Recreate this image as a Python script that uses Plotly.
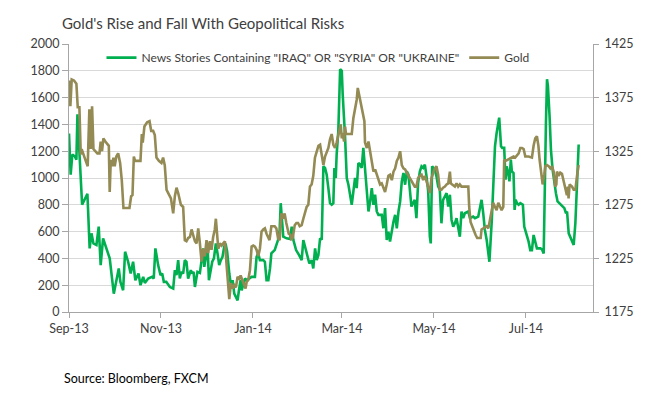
import numpy as np
import pandas as pd
import plotly.graph_objects as go

# Day offsets are days since 2013-09-01
START = "2013-09-01"

news_day = [0.0, 1.1, 2.2, 3.8, 4.9, 5.6, 8.7, 10.4, 12.2, 13.7, 14.9, 16.2, 18.2, 19.7, 21.0, 22.6,
            24.8, 27.0, 29.7, 31.5, 33.0, 34.1, 35.9, 37.2, 39.2, 40.9, 42.5, 44.0, 46.1, 47.4, 49.2,
            50.3, 52.5, 55.1, 56.2, 57.3, 59.1, 60.7, 61.8, 62.9, 64.5, 66.9, 69.1, 70.2, 71.3, 72.4,
            73.5, 74.6, 75.7, 76.8, 77.9, 79.0, 80.8, 81.7, 82.6, 83.5, 85.2, 86.8, 87.9, 89.0, 89.7,
            90.8, 91.9, 92.8, 93.9, 95.0, 96.1, 97.4, 98.5, 99.6, 100.7, 101.8, 102.9, 103.8, 104.9,
            105.6, 106.3, 107.4, 108.5, 109.6, 110.7, 111.8, 112.7, 113.8, 114.5, 115.6, 116.7, 117.8,
            119.3, 121.1, 123.3, 124.4, 125.5, 126.6, 128.8, 129.9, 131.0, 132.2, 133.3, 134.2, 136.4,
            137.5, 138.6, 139.7, 140.4, 142.1, 144.3, 146.5, 147.7, 148.8, 150.6, 152.6, 154.3, 155.4,
            157.2, 158.1, 159.4, 161.0, 162.0, 163.2, 164.3, 165.4, 166.5, 167.6, 168.2, 168.7, 169.8,
            170.9, 172.0, 173.1, 174.2, 175.3, 176.0, 176.9, 177.5, 178.6, 179.8, 180.9, 181.5, 182.4,
            183.1, 184.2, 185.3, 186.4, 187.5, 188.6, 189.7, 190.8, 191.9, 193.0, 194.1, 195.2, 196.3,
            197.5, 198.6, 199.7, 200.8, 201.9, 203.0, 204.1, 205.2, 206.3, 207.4, 208.5, 209.6, 210.7,
            211.8, 212.9, 214.1, 215.2, 216.3, 217.4, 218.5, 219.6, 220.7, 221.8, 222.9, 224.0, 225.1,
            227.1, 228.2, 229.3, 230.4, 231.5, 232.7, 233.8, 234.9, 236.0, 237.1, 238.2, 239.3, 239.9,
            240.8, 242.6, 243.7, 244.8, 245.9, 247.0, 248.1, 249.3, 250.4, 251.5, 252.6, 253.7, 254.8,
            255.9, 257.0, 259.2, 260.3, 261.4, 262.5, 264.8, 265.9, 268.0, 269.2, 271.4, 272.5, 273.6,
            274.7, 275.8, 277.0, 278.1, 278.8, 280.4, 281.5, 282.5, 283.6, 284.7, 285.3, 286.5, 287.3,
            288.6, 289.5, 290.2, 291.3, 292.1, 293.0, 293.7, 294.8, 295.5, 296.2, 297.1, 298.2, 299.3,
            301.0, 301.9, 303.2, 304.8, 305.9, 307.0, 308.1, 309.2, 310.3, 312.6, 313.7, 314.8, 315.4,
            316.3, 317.0, 317.6, 318.7, 319.6, 320.7, 321.8, 322.9, 324.0, 325.2, 326.3, 327.4, 328.5,
            329.6, 330.3, 331.4, 332.5, 333.6, 334.7, 335.8, 336.9, 338.0]
news_count = [1332, 1025, 1175, 1162, 1137, 1475, 800, 837, 882, 475, 587, 512, 500, 637, 350, 550,
              475, 400, 137, 250, 325, 225, 162, 450, 375, 287, 375, 237, 287, 200, 262,
              217, 250, 262, 250, 475, 350, 275, 287, 225, 225, 187, 175, 312, 275, 387,
              250, 300, 287, 387, 375, 250, 312, 287, 300, 187, 300, 292, 400, 475, 337,
              412, 487, 237, 325, 375, 400, 512, 437, 350, 387, 412, 487, 512, 450,
              362, 287, 200, 237, 137, 112, 87, 162, 237, 162, 212, 250, 237,
              250, 262, 262, 412, 437, 387, 387, 375, 237, 237, 325, 437, 462,
              500, 537, 612, 812, 562, 550, 545, 637, 537, 462, 425, 387, 537,
              462, 412, 362, 387, 325, 475, 387, 425, 550, 540, 800, 1087, 1075,
              1025, 925, 812, 800, 812, 1075, 1000, 1175, 1350, 1812, 1800, 1625, 1475,
              1300, 1000, 950, 875, 800, 900, 1000, 925, 1112, 1100, 1075, 1225, 1062,
              925, 750, 825, 925, 800, 875, 750, 725, 725, 725, 625, 775, 537,
              600, 525, 625, 675, 725, 625, 750, 825, 975, 1037, 950, 1050, 1025,
              787, 812, 837, 700, 962, 1050, 1087, 1075, 1100, 1012, 900, 562, 512,
              1087, 1062, 1012, 937, 912, 662, 837, 862, 887, 787, 875, 687, 637,
              662, 700, 562, 750, 700, 737, 750, 700, 712, 700, 712, 787, 837,
              737, 612, 537, 450, 375, 687, 962, 1237, 1337, 1437, 1450, 1237, 1225,
              1225, 987, 1087, 1037, 975, 1137, 1050, 1037, 762, 837, 812, 800, 812,
              800, 637, 587, 525, 462, 462, 575, 512, 475, 475, 467, 437, 912,
              1412, 1737, 1687, 1462, 1212, 1062, 962, 887, 825, 812, 800, 787, 775,
              737, 750, 587, 562, 525, 500, 662, 987, 1250]

gold_day = [0.0, 0.9, 1.8, 3.3, 4.9, 5.8, 6.9, 7.8, 8.4, 9.8, 11.1, 12.4, 13.5, 14.4, 15.3, 16.2,
            17.3, 18.8, 20.2, 21.0, 21.9, 22.8, 24.1, 25.5, 26.4, 27.0, 27.7, 28.6, 29.5, 30.3, 31.4,
            32.6, 33.9, 35.0, 36.1, 38.3, 40.1, 41.2, 42.1, 43.0, 43.8, 47.4, 48.3, 48.9, 50.0, 51.8,
            53.4, 54.5, 55.8, 56.9, 58.0, 59.6, 61.3, 62.4, 63.5, 64.7, 65.8, 67.6, 69.1, 70.2, 71.3,
            72.4, 74.2, 75.7, 76.8, 77.9, 79.0, 80.2, 81.3, 82.4, 83.5, 84.6, 85.7, 86.8, 87.9, 89.0,
            90.1, 91.2, 92.3, 93.4, 94.5, 95.6, 96.7, 97.4, 98.3, 99.0, 100.1, 101.2, 102.3, 103.4,
            104.5, 105.6, 106.3, 107.4, 108.5, 109.6, 110.7, 111.8, 112.7, 113.8, 114.9, 116.0, 117.1,
            117.8, 118.9, 120.0, 121.1, 122.2, 123.3, 124.4, 125.5, 126.6, 127.7, 128.8, 129.9, 131.0,
            132.2, 133.0, 134.2, 136.4, 137.5, 138.6, 139.7, 140.8, 141.9, 143.0, 144.1, 145.7, 146.8,
            147.4, 148.5, 149.7, 150.8, 151.9, 153.0, 154.3, 155.4, 156.5, 157.6, 158.7, 159.8, 160.9,
            162.0, 163.1, 164.3, 165.4, 166.5, 167.6, 168.7, 169.8, 170.9, 172.0, 173.1, 174.2, 175.3,
            176.4, 177.5, 178.6, 179.3, 180.2, 180.9, 181.5, 182.4, 183.1, 183.7, 185.3, 187.5, 188.6,
            189.7, 190.8, 191.5, 192.6, 193.7, 194.8, 195.9, 196.3, 197.5, 198.6, 199.7, 200.8, 201.9,
            203.0, 204.1, 205.2, 206.3, 207.4, 208.5, 209.6, 210.7, 211.8, 212.9, 214.1, 215.2, 216.3,
            217.4, 218.5, 219.6, 220.7, 221.8, 222.9, 224.0, 225.1, 227.1, 228.2, 229.3, 230.4, 231.5,
            232.7, 233.8, 234.9, 236.0, 237.1, 238.2, 239.3, 240.4, 241.5, 242.6, 243.7, 244.8, 245.9,
            247.0, 248.1, 249.3, 250.4, 251.5, 252.6, 253.2, 254.1, 255.9, 257.0, 258.1, 259.2, 260.3,
            262.5, 264.8, 265.4, 266.3, 267.4, 268.5, 269.6, 270.7, 273.0, 273.6, 274.7, 277.0, 278.1,
            279.1, 280.2, 281.3, 282.5, 283.6, 284.7, 285.8, 286.9, 288.0, 288.6, 289.5, 290.9, 292.4,
            293.7, 294.8, 295.9, 298.2, 299.3, 300.4, 301.5, 302.6, 304.8, 307.0, 308.1, 309.2, 310.3,
            311.3, 312.1, 313.0, 314.1, 315.2, 315.9, 317.0, 318.1, 319.2, 320.3, 321.4, 322.5, 323.2,
            323.6, 324.7, 325.8, 326.9, 328.0, 329.1, 330.2, 330.9, 331.3, 332.0, 333.6, 334.7, 335.8,
            336.9, 338.0]
gold_price = [1391, 1367, 1392, 1391, 1388, 1366, 1366, 1322, 1327, 1320, 1316, 1311, 1364, 1327, 1367, 1327,
              1325, 1323, 1323, 1334, 1325, 1337, 1334, 1331, 1330, 1287, 1317, 1311, 1319, 1311, 1320,
              1323, 1314, 1298, 1272, 1272, 1272, 1283, 1284, 1320, 1316, 1316, 1341, 1333, 1348, 1352,
              1353, 1344, 1344, 1340, 1319, 1316, 1314, 1319, 1312, 1289, 1286, 1281, 1267, 1283, 1291,
              1286, 1275, 1273, 1242, 1241, 1244, 1245, 1252, 1247, 1241, 1239, 1253, 1239, 1222, 1234,
              1227, 1242, 1230, 1241, 1233, 1245, 1252, 1262, 1248, 1234, 1239, 1237, 1239, 1241,
              1219, 1203, 1187, 1202, 1197, 1200, 1198, 1208, 1205, 1209, 1205, 1200, 1197,
              1203, 1205, 1214, 1236, 1237, 1236, 1233, 1227, 1234, 1250, 1252, 1253, 1248,
              1244, 1242, 1255, 1255, 1253, 1244, 1242, 1267, 1262, 1267, 1258, 1248, 1247,
              1242, 1245, 1256, 1258, 1258, 1255, 1256, 1262, 1269, 1273, 1275, 1292, 1294,
              1302, 1319, 1325, 1330, 1331, 1322, 1312, 1320, 1325, 1328, 1336, 1341, 1331,
              1328, 1333, 1341, 1347, 1350, 1337, 1342, 1334, 1348, 1341, 1341, 1341, 1356,
              1366, 1373, 1384, 1377, 1369, 1361, 1353, 1333, 1328, 1334, 1325, 1312, 1306,
              1308, 1303, 1297, 1294, 1295, 1291, 1287, 1294, 1302, 1303, 1298, 1306, 1309,
              1316, 1319, 1325, 1312, 1309, 1308, 1305, 1302, 1297, 1295, 1292, 1292, 1300,
              1302, 1303, 1298, 1302, 1297, 1292, 1286, 1300, 1305, 1309, 1311, 1303, 1289,
              1289, 1291, 1292, 1294, 1295, 1306, 1295, 1294, 1292, 1295, 1292, 1294, 1292,
              1292, 1292, 1273, 1259, 1255, 1250, 1247, 1244, 1244, 1252, 1253, 1255, 1253,
              1261, 1267, 1277, 1273, 1270, 1277, 1273, 1270, 1273, 1317, 1316, 1317, 1318,
              1319, 1320, 1319, 1323, 1328, 1328, 1327, 1320, 1320, 1319, 1330, 1337, 1339,
              1330, 1317, 1305, 1294, 1303, 1311, 1312, 1311, 1309, 1311, 1306, 1292, 1294,
              1306, 1302, 1305, 1304, 1298, 1292, 1284, 1292, 1281, 1294, 1292, 1289, 1289,
              1302, 1312]

news_name = 'News Stories Containing "IRAQ" OR "SYRIA" OR "UKRAINE"'
gold_name = "Gold"
title_text = "Gold's Rise and Fall With Geopolitical Risks"
source_text = "Source: Bloomberg, FXCM"

start = pd.Timestamp(START)
news_dates = start + pd.to_timedelta(np.array(news_day), unit="D")
gold_dates = start + pd.to_timedelta(np.array(gold_day), unit="D")

FONT = "Lato, sans-serif"
AXIS = "#a6a6a6"
GRID = "#d9d9d9"
TXT = "#404040"

# The page body adds an 8px offset, so the figure is 8px smaller than the window
W, H = 644, 388
PL, PT, PW, PH = 61.3, 36.3, 523.4, 267.4

fig = go.Figure()
fig.add_trace(go.Scatter(x=news_dates, y=news_count, name=news_name, mode="lines",
                         line=dict(color="#00B050", width=2.6), yaxis="y"))
fig.add_trace(go.Scatter(x=gold_dates, y=gold_price, name=gold_name, mode="lines",
                         line=dict(color="#948A54", width=2.6), yaxis="y2"))

fig.update_layout(
    width=W, height=H,
    margin=dict(l=PL, r=W - PL - PW, t=PT, b=H - PT - PH, pad=0),
    paper_bgcolor="white", plot_bgcolor="white",
    font=dict(family=FONT, size=13, color=TXT),
    showlegend=True,
    legend=dict(orientation="h", x=0.062, xanchor="left", y=0.949, yanchor="middle",
                bgcolor="rgba(0,0,0,0)", font=dict(size=12, color=TXT), itemwidth=30),
    title=dict(text=title_text, xref="container", x=54 / W, xanchor="left",
               yref="container", y=1 - 16 / H, yanchor="middle",
               font=dict(family=FONT, size=15, color=TXT)),
    xaxis=dict(type="date", range=["2013-09-01", "2014-08-14 12:00"],
               tickformat="%b-%y", dtick="M2", tick0="2013-09-01",
               ticks="outside", ticklen=5, tickcolor=AXIS,
               showline=True, linecolor=AXIS, linewidth=1, showgrid=False,
               tickfont=dict(size=12.5, color=TXT)),
    yaxis=dict(range=[0, 2000], dtick=200, showgrid=True, gridcolor=GRID, gridwidth=1,
               showline=True, linecolor=AXIS, linewidth=1, ticks="outside", ticklen=6,
               tickcolor=AXIS, zeroline=False, tickfont=dict(size=12.5, color=TXT)),
    yaxis2=dict(range=[1175, 1425], tick0=1175, dtick=50, overlaying="y", side="right",
                showgrid=False, showline=True, linecolor=AXIS, linewidth=1, ticks="outside",
                ticklen=5, tickcolor=AXIS, zeroline=False, ticklabelstandoff=3,
                tickfont=dict(size=12.5, color=TXT)),
    annotations=[dict(text=source_text, xref="paper", yref="paper",
                      x=-7.3 / PW, xanchor="left",
                      y=(PH - (378 - 44.3)) / PH, yanchor="middle", showarrow=False,
                      font=dict(family=FONT, size=12.5, color="#000000"))],
)

fig.write_html("out.html")
